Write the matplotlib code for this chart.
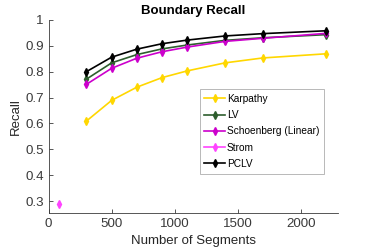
import matplotlib
matplotlib.use("Agg")
import matplotlib.pyplot as plt

plt.rcParams['font.family'] = ['Liberation Sans', 'DejaVu Sans']

# data
segments = [300, 500, 700, 900, 1100, 1400, 1700, 2200]
karpathy = [0.609, 0.689, 0.740, 0.777, 0.803, 0.834, 0.853, 0.869]
lv = [0.771, 0.834, 0.866, 0.888, 0.903, 0.921, 0.931, 0.943]
schoenberg = [0.751, 0.813, 0.852, 0.877, 0.895, 0.917, 0.929, 0.948]
strom_x = [80]
strom_y = [0.29]
pclv = [0.800, 0.856, 0.887, 0.908, 0.922, 0.938, 0.947, 0.958]

fig = plt.figure(figsize=(3.74, 2.49), dpi=100)
ax = fig.add_axes([0.130, 0.146, 0.775, 0.774])

style = dict(marker='d', markersize=4, linewidth=1.2)
ax.plot(segments, karpathy, color='#FFD700', label='Karpathy', **style)
ax.plot(segments, lv, color='#2E5E2E', label='LV', **style)
ax.plot(segments, schoenberg, color='#CC00CC', label='Schoenberg (Linear)', **style)
ax.plot(strom_x, strom_y, color='#FF44FF', label='Strom', **style)
ax.plot(segments, pclv, color='black', label='PCLV', **style)

ax.set_xlim(0, 2300)
ax.set_ylim(0.255, 1.0)
ax.set_xticks([0, 500, 1000, 1500, 2000])
ax.set_yticks([0.3, 0.4, 0.5, 0.6, 0.7, 0.8, 0.9, 1.0])
ax.set_yticklabels(['0.3', '0.4', '0.5', '0.6', '0.7', '0.8', '0.9', '1'])
ax.tick_params(labelsize=9.6, colors='#3a3a3a', direction='in', length=3, width=0.6)
for s in ['top', 'right']:
    ax.spines[s].set_visible(False)
for s in ['left', 'bottom']:
    ax.spines[s].set_linewidth(0.6)
    ax.spines[s].set_color('#3a3a3a')

ax.set_title('Boundary Recall', fontsize=9.5, fontweight='bold', pad=4)
ax.set_xlabel('Number of Segments', fontsize=9.5, labelpad=4, color='#262626')
ax.set_ylabel('Recall', fontsize=9.5, labelpad=2, color='#262626')

leg = ax.legend(loc='upper left', bbox_to_anchor=(0.522, 0.64), fontsize=7.3,
                frameon=True, fancybox=False, borderpad=0.45, labelspacing=0.62,
                handlelength=2.0, handletextpad=0.2, borderaxespad=0)
leg.get_frame().set_edgecolor('#999999')
leg.get_frame().set_linewidth(0.6)

fig.savefig('out.png', dpi=100)
